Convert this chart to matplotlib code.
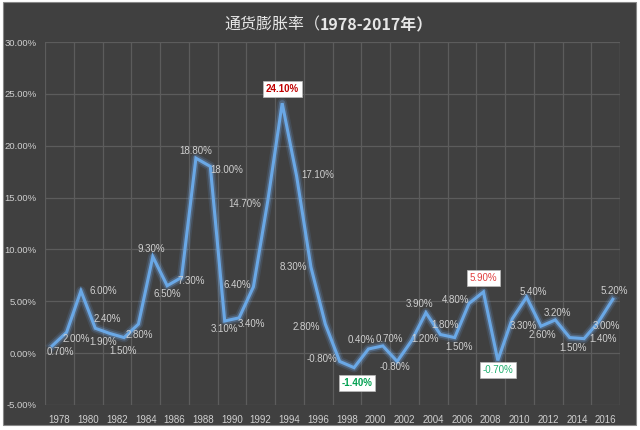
import numpy as np
import matplotlib
matplotlib.use("Agg")
import matplotlib.pyplot as plt
from matplotlib.patches import Rectangle
from matplotlib.ticker import FuncFormatter, MultipleLocator

plt.rcParams['font.family'] = ['Liberation Sans', 'Noto Sans CJK SC', 'DejaVu Sans']

# data
years = list(range(1978, 2018))
inflation = [0.7, 2.0, 6.0, 2.4, 1.9, 1.5, 2.8, 9.3, 6.5, 7.3,
             18.8, 18.0, 3.1, 3.4, 6.4, 14.7, 24.1, 17.1, 8.3, 2.8,
             -0.8, -1.4, 0.4, 0.7, -0.8, 1.2, 3.9, 1.8, 1.5, 4.8,
             5.9, -0.7, 3.3, 5.4, 2.6, 3.2, 1.5, 1.4, 3.0, 5.2]
tick_years = years[::2]

# label offsets in pixels (dx, dy)
offsets = [(8, -6), (10, -7), (22, 0), (12, 9), (-7, -9), (-1, -13), (1, -11), (-1, 8),
           (0, -8), (10, -4), (0, 7), (16, -4), (0, -8), (12, -6), (-16, 2), (-23, -3),
           (0, 14), (21, 1), (-18, 0), (-19, -3), (-18, 2), (3, -15), (-7, 9), (7, 7),
           (-2, -6), (14, 2), (-6, 9), (5, 9), (4, -9), (-14, 3), (0, 14), (0, -10),
           (11, -7), (7, 5), (1, -9), (2, 7), (3, -10), (19, 0), (8, -4), (1, 8)]

# special boxed labels: index -> (text colour, bold)
boxed = {years.index(1994): ('#c00000', True),
         years.index(1999): ('#00a050', True),
         years.index(2008): ('#e04040', False),
         years.index(2009): ('#20b070', False)}

bg = '#404040'
grid_c = '#5c5c5c'
text_c = '#d0d0d0'

fig = plt.figure(figsize=(6.4, 4.3), dpi=100, facecolor='white')
fig.patches.append(Rectangle((3 / 640, 5 / 430), 633 / 640, 423 / 430,
                             transform=fig.transFigure, facecolor=bg,
                             edgecolor='#888888', linewidth=0.8, zorder=-10))

ax = fig.add_axes([45 / 640, 1 - 405 / 430, 575 / 640, 363 / 430])
ax.set_facecolor(bg)

x = np.arange(len(years))
ax.set_xlim(-0.5, len(years) - 0.5)
ax.set_ylim(-5, 30)

# grid
for gx in np.arange(-0.5, len(years), 2):
    ax.axvline(gx, color=grid_c, lw=0.9, zorder=1)
ax.axvline(len(years) - 0.5, color=grid_c, lw=0.9, zorder=1)
for gy in range(-5, 31, 5):
    ax.axhline(gy, color=grid_c, lw=0.9, zorder=1)

for s in ax.spines.values():
    s.set_visible(False)

# glowing line
ax.plot(x, inflation, color='#6fb2ff', lw=7, alpha=0.12, solid_joinstyle='round', zorder=2)
ax.plot(x, inflation, color='#7fbcff', lw=4.5, alpha=0.25, solid_joinstyle='round', zorder=2)
ax.plot(x, inflation, color='#6aa8e6', lw=2.2, solid_joinstyle='miter', zorder=3)

# data labels
for i, v in enumerate(inflation):
    lbl = '%.2f%%' % v
    dx, dy = offsets[i]
    if i in boxed:
        col, bold = boxed[i]
        ax.annotate(lbl, (x[i], v), xytext=(dx, dy), textcoords='offset pixels',
                    ha='center', va='center', fontsize=7, color=col,
                    fontweight='bold' if bold else 'normal', zorder=5,
                    bbox=dict(boxstyle='square,pad=0.3', facecolor='white',
                              edgecolor='#bbbbbb', linewidth=0.5))
    else:
        ax.annotate(lbl, (x[i], v), xytext=(dx, dy), textcoords='offset pixels',
                    ha='center', va='center', fontsize=7, color=text_c, zorder=4)

# axes ticks
ax.yaxis.set_major_locator(MultipleLocator(5))
ax.yaxis.set_major_formatter(FuncFormatter(lambda v, p: '%.2f%%' % v))
ax.set_xticks(np.arange(0, len(years), 2) + 0.5)
ax.set_xticklabels([str(y) for y in tick_years])
ax.tick_params(axis='both', length=0, colors=text_c, labelsize=7)
ax.tick_params(axis='x', pad=7)
ax.tick_params(axis='y', pad=6, labelsize=6.8)

fig.text(0.5, 1 - 25 / 430, '通货膨胀率（', fontsize=11.5, color='#e6e6e6',
         ha='right', va='center', family=['Noto Sans CJK SC', 'DejaVu Sans'])
fig.text(0.5, 1 - 25 / 430, '1978-2017年）', fontsize=11.5, color='#e6e6e6',
         ha='left', va='center', fontweight='bold',
         family=['Noto Sans CJK SC', 'DejaVu Sans'])

fig.savefig('out.png', dpi=100, facecolor='white')
